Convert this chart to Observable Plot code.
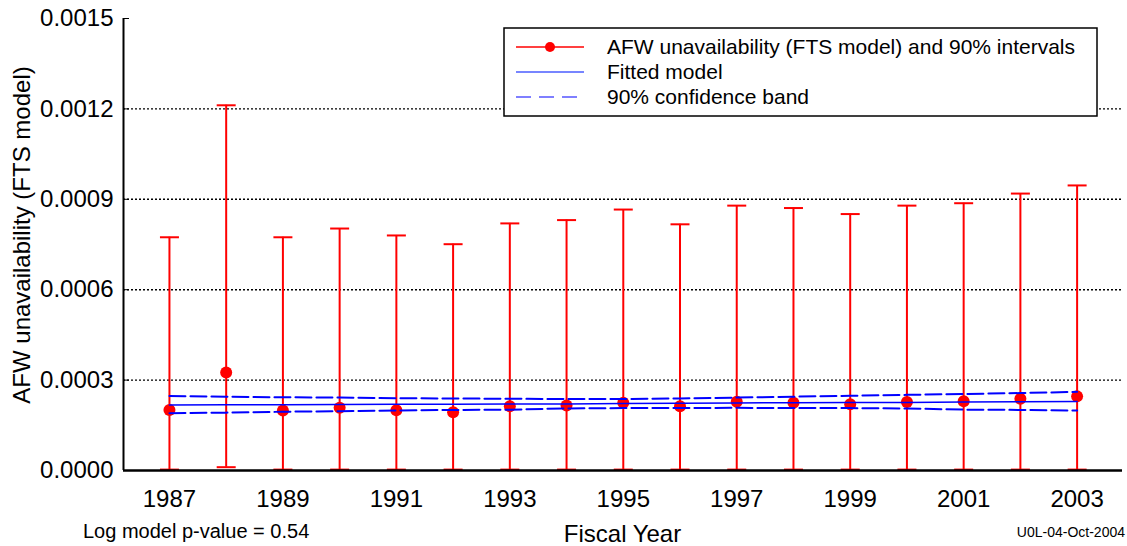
<!DOCTYPE html>
<html><head><meta charset="utf-8">
<script src="https://cdn.jsdelivr.net/npm/d3@7"></script>
<script src="https://cdn.jsdelivr.net/npm/@observablehq/plot@0.6"></script>
<style>
body{margin:0;background:#fff}
#chart svg{display:block}
</style>
</head><body><div id="chart"></div>
<script>
// ---- data ----
const years = [1987,1988,1989,1990,1991,1992,1993,1994,1995,1996,1997,1998,1999,2000,2001,2002,2003];
const meanValues  = [2.01e-4,3.25e-4,1.99e-4,2.08e-4,2.00e-4,1.93e-4,2.13e-4,2.16e-4,2.25e-4,2.13e-4,2.28e-4,2.25e-4,2.20e-4,2.27e-4,2.30e-4,2.38e-4,2.46e-4];
const lowerBounds = [3e-6,1.1e-5,3e-6,3e-6,3e-6,3e-6,3e-6,3e-6,3e-6,3e-6,3e-6,3e-6,3e-6,3e-6,3e-6,3e-6,3e-6];
const upperBounds = [7.74e-4,12.12e-4,7.74e-4,8.03e-4,7.80e-4,7.51e-4,8.20e-4,8.31e-4,8.66e-4,8.17e-4,8.79e-4,8.71e-4,8.51e-4,8.79e-4,8.87e-4,9.19e-4,9.46e-4];
const fittedValues = [2.17e-4,2.18e-4,2.18e-4,2.19e-4,2.20e-4,2.20e-4,2.21e-4,2.21e-4,2.22e-4,2.23e-4,2.24e-4,2.25e-4,2.26e-4,2.26e-4,2.27e-4,2.28e-4,2.29e-4];
const bandUpper = [2.47e-4,2.45e-4,2.43e-4,2.42e-4,2.40e-4,2.39e-4,2.38e-4,2.37e-4,2.37e-4,2.39e-4,2.42e-4,2.45e-4,2.48e-4,2.51e-4,2.54e-4,2.57e-4,2.61e-4];
const bandLower = [1.90e-4,1.92e-4,1.95e-4,1.97e-4,1.99e-4,2.01e-4,2.02e-4,2.06e-4,2.07e-4,2.07e-4,2.08e-4,2.07e-4,2.07e-4,2.06e-4,2.02e-4,2.01e-4,1.99e-4];
const yTickValues = [0, 0.0003, 0.0006, 0.0009, 0.0012, 0.0015];
const gridValues = [0.0003, 0.0006, 0.0009, 0.0012];
const xTickValues = [1987,1989,1991,1993,1995,1997,1999,2001,2003];
const xDomain = [1986.19, 2003.8];
const yDomain = [0, 0.0015];
const legendLabels = ["AFW unavailability (FTS model) and 90% intervals", "Fitted model", "90% confidence band"];
const xTitle = "Fiscal Year";
const yTitle = "AFW unavailability (FTS model)";
const pValueText = "Log model p-value = 0.54";
const stampText = "U0L-04-Oct-2004";

// ---- tables built from the arrays ----
const rows = years.map((year, i) => ({year, mean: meanValues[i], lo: lowerBounds[i], hi: upperBounds[i]}));
const fitRows = years.map((year, i) => ({year, fit: fittedValues[i], up: bandUpper[i], low: bandLower[i]}));

const FONT = "'Liberation Sans', Arial, Helvetica, sans-serif";
const capSymbol = {draw(ctx, size) { const w = Math.sqrt(size / Math.PI); ctx.moveTo(-w, 0); ctx.lineTo(w, 0); }};

const plot = Plot.plot({
  width: 1127,
  height: 546,
  marginLeft: 123,
  marginRight: 5,
  marginTop: 18,
  marginBottom: 76,
  style: {fontFamily: FONT, fontSize: "24px", background: "white", color: "black", overflow: "visible"},
  x: {domain: xDomain},
  y: {domain: yDomain},
  marks: [
    Plot.gridY(gridValues, {stroke: "black", strokeOpacity: 1, strokeWidth: 1.4, strokeDasharray: "2,2"}),
    Plot.axisY(yTickValues, {tickFormat: d3.format(".4f"), tickSize: -6, tickPadding: 16, fontSize: 24, label: null, stroke: "black"}),
    Plot.axisX(xTickValues, {tickFormat: d => String(d), tickSize: 0, tickPadding: 19, fontSize: 24, label: null}),
    Plot.ruleX(rows, {x: "year", y1: "lo", y2: "hi", stroke: "#ff0000", strokeWidth: 2}),
    Plot.dot(rows, {x: "year", y: "hi", symbol: capSymbol, r: 9.5, stroke: "#ff0000", strokeWidth: 2, fill: "none"}),
    Plot.dot(rows, {x: "year", y: "lo", symbol: capSymbol, r: 9.5, stroke: "#ff0000", strokeWidth: 2, fill: "none"}),
    Plot.dot(rows, {x: "year", y: "mean", r: 6, fill: "#ff0000", stroke: "none"}),
    Plot.line(fitRows, {x: "year", y: "fit", stroke: "#0000ff", strokeWidth: 1.5}),
    Plot.line(fitRows, {x: "year", y: "up", stroke: "#0000ff", strokeWidth: 2, strokeDasharray: "16,5"}),
    Plot.line(fitRows, {x: "year", y: "low", stroke: "#0000ff", strokeWidth: 2, strokeDasharray: "16,5"}),
    Plot.ruleY([yDomain[0]], {stroke: "black", strokeWidth: 2.5}),
    Plot.ruleX([xDomain[0]], {stroke: "black", strokeWidth: 2})
  ]
});

const svg = d3.select(plot);

// legend
const lg = svg.append("g").attr("font-family", FONT).attr("text-anchor", "start");
lg.append("rect").attr("x", 504).attr("y", 28).attr("width", 593).attr("height", 88)
  .attr("fill", "white").attr("stroke", "black").attr("stroke-width", 1.5);
const rowY = [47, 72, 97];
lg.append("line").attr("x1", 516).attr("x2", 584).attr("y1", rowY[0]).attr("y2", rowY[0]).attr("stroke", "#ff0000").attr("stroke-width", 1.3);
lg.append("circle").attr("cx", 550).attr("cy", rowY[0]).attr("r", 5).attr("fill", "#ff0000");
lg.append("line").attr("x1", 516).attr("x2", 584).attr("y1", rowY[1]).attr("y2", rowY[1]).attr("stroke", "#4a5cff").attr("stroke-width", 1.6);
lg.append("line").attr("x1", 516).attr("x2", 584).attr("y1", rowY[2]).attr("y2", rowY[2]).attr("stroke", "#0000ff").attr("stroke-width", 1.2).attr("stroke-dasharray", "15,8");
legendLabels.forEach((t, i) => {
  lg.append("text").attr("x", 607).attr("y", rowY[i]).attr("dy", "0.35em").attr("text-anchor", "start")
    .attr("font-size", 21).attr("fill", "black").text(t);
});

// titles and notes
svg.append("text").attr("x", 622.5).attr("y", 542).attr("text-anchor", "middle")
  .attr("font-family", FONT).attr("font-size", 24).attr("fill", "black").text(xTitle);
svg.append("text").attr("transform", "translate(30,235) rotate(-90)").attr("text-anchor", "middle")
  .attr("font-family", FONT).attr("font-size", 24).attr("fill", "black").text(yTitle);
svg.append("text").attr("x", 83).attr("y", 538).attr("text-anchor", "start")
  .attr("font-family", FONT).attr("font-size", 20).attr("fill", "black").text(pValueText);
svg.append("text").attr("x", 1125).attr("y", 537).attr("text-anchor", "end")
  .attr("font-family", FONT).attr("font-size", 14).attr("fill", "black").text(stampText);

document.getElementById("chart").appendChild(plot);
</script>
</body></html>
